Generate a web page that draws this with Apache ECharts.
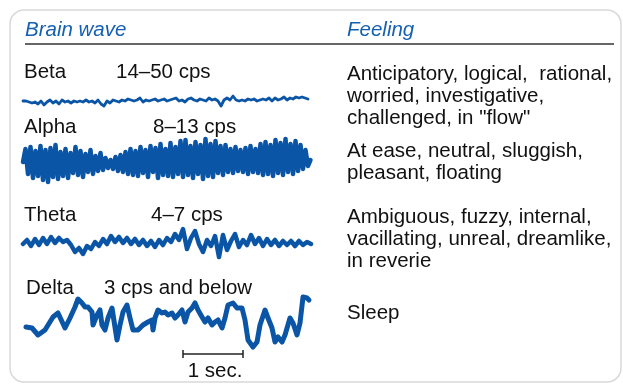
<!DOCTYPE html>
<html>
<head>
<meta charset="utf-8">
<script src="https://cdn.jsdelivr.net/npm/echarts@6/dist/echarts.min.js"></script>
<style>
  html, body { margin: 0; padding: 0; background: #fff; }
  #main { width: 623px; height: 384px; }
</style>
</head>
<body>
<div id="main"></div>
<script>
// wave traces, amplitude (x step in px-like time units)
var betaStep = 3;
var betaValues = [
  9,9,8,7,8,6,9,5,8,10,7,9,6,10,8,9,
  7,9,8,9,8,10,8,9,7,10,6,4,9,7,10,9,
  8,10,9,11,10,9,10,12,8,10,9,10,11,9,10,11,
  9,10,11,12,9,10,8,11,12,10,9,11,10,9,12,10,
  11,9,4,10,12,10,14,10,9,10,9,11,10,11,9,10,
  11,10,12,9,12,10,11,13,10,12,11,13,12,13,12,11
];

var alphaStep = 2.5;
var alphaValues = [
  28,41,16,43,12,39,14,44,10,40,8,42,13,45,11,38,
  14,41,12,37,17,43,15,39,13,36,18,40,16,34,19,37,
  20,32,22,30,21,33,19,35,18,38,16,41,15,39,14,43,
  17,40,13,44,18,42,12,46,15,41,14,47,13,43,16,49,
  13,50,15,44,12,48,16,45,11,51,14,46,13,49,17,44,
  15,45,18,41,17,43,19,40,18,42,16,44,18,41,17,46,
  15,48,16,45,14,50,17,47,15,51,18,46,16,49,19,45,
  21,40,24,30
];

var thetaStep = 4;
var thetaValues = [
  18,22,16,23,17,24,18,25,19,24,20,22,17,10,14,8,
  16,13,20,16,23,18,26,20,25,19,24,18,23,17,22,16,
  21,15,22,17,24,20,28,22,33,13,24,31,18,10,22,16,
  26,5,27,12,21,28,15,22,17,27,18,24,16,23,17,22,
  16,21,17,21,16,21,17,20,18
];

var deltaPoints = [
  [3,23],[9,22],[15,15],[22,20],[30,33],[35,37],[37,35],[42,22],[47,32],[52,43],
  [55,51],[59,47],[62,43],[65,43],[69,38],[70,25],[74,35],[77,40],[79,25],[82,20],
  [85,32],[89,42],[94,10],[97,25],[100,38],[104,45],[107,32],[110,20],[115,20],[120,25],
  [125,28],[129,30],[130,20],[132,32],[135,40],[139,37],[142,38],[145,35],[149,37],[152,32],
  [155,35],[159,40],[162,28],[165,38],[169,42],[172,47],[175,40],[179,33],[182,28],[185,32],
  [189,25],[192,28],[195,30],[199,22],[202,32],[205,45],[210,47],[214,42],[219,42],[222,30],
  [225,10],[230,3],[234,8],[237,25],[242,40],[245,32],[249,22],[252,8],[255,13],[259,8],
  [262,15],[267,32],[270,27],[274,15],[277,27],[280,53],[284,52],[286,50]
];

var waveNames = ['Beta', 'Alpha', 'Theta', 'Delta'];
var waveRanges = ['14–50 cps', '8–13 cps', '4–7 cps', '3 cps and below'];
var feelings = [
  ['Anticipatory, logical,  rational,', 'worried, investigative,', 'challenged, in "flow"'],
  ['At ease, neutral, sluggish,', 'pleasant, floating'],
  ['Ambiguous, fuzzy, internal,', 'vacillating, unreal, dreamlike,', 'in reverie'],
  ['Sleep']
];

function toPairs(values, step) {
  return values.map(function (v, i) { return [i * step, v]; });
}

var blue = '#0b55a6';
var font = '"Liberation Sans", Arial, sans-serif';
var fs = '20.5px ';

var grids = [
  { top: 90, height: 20 },
  { top: 135, height: 55 },
  { top: 222, height: 40 },
  { top: 295, height: 55 }
];
var widths = [2.8, 4.5, 4.5, 5];
var seriesData = [
  toPairs(betaValues, betaStep),
  toPairs(alphaValues, alphaStep),
  toPairs(thetaValues, thetaStep),
  deltaPoints
];

// label positions
var nameY = [72, 127, 215, 288];
var nameX = [24, 24, 24, 26];
var rangeX = [116, 153, 151, 104];
var feelY = [74, 151, 217, 313];

var graphic = [
  {
    type: 'rect',
    shape: { x: 10, y: 10, width: 611, height: 372, r: 14 },
    style: { fill: 'none', stroke: '#d9d9d9', lineWidth: 1.5 }
  },
  {
    type: 'line',
    shape: { x1: 25, y1: 44, x2: 614, y2: 44 },
    style: { stroke: '#333', lineWidth: 1.5 }
  },
  {
    type: 'text', x: 25, y: 30,
    style: { text: 'Brain wave', font: 'italic ' + fs + font, fill: '#1560b0', verticalAlign: 'middle' }
  },
  {
    type: 'text', x: 347, y: 30,
    style: { text: 'Feeling', font: 'italic ' + fs + font, fill: '#1560b0', verticalAlign: 'middle' }
  },
  // 1 sec. scale bar
  { type: 'line', shape: { x1: 183, y1: 354, x2: 243, y2: 354 }, style: { stroke: '#222', lineWidth: 1.5 } },
  { type: 'line', shape: { x1: 183, y1: 350, x2: 183, y2: 358 }, style: { stroke: '#222', lineWidth: 1.5 } },
  { type: 'line', shape: { x1: 243, y1: 350, x2: 243, y2: 358 }, style: { stroke: '#222', lineWidth: 1.5 } },
  {
    type: 'text', x: 215, y: 371,
    style: { text: '1 sec.', font: fs + font, fill: '#111', align: 'center', verticalAlign: 'middle' }
  }
];

waveNames.forEach(function (n, k) {
  graphic.push({
    type: 'text', x: nameX[k], y: nameY[k],
    style: { text: n, font: fs + font, fill: '#111', verticalAlign: 'middle' }
  });
  graphic.push({
    type: 'text', x: rangeX[k], y: nameY[k],
    style: { text: waveRanges[k], font: fs + font, fill: '#111', verticalAlign: 'middle' }
  });
  feelings[k].forEach(function (line, j) {
    graphic.push({
      type: 'text', x: 347, y: feelY[k] + j * 22,
      style: { text: line, font: fs + font, fill: '#111', verticalAlign: 'middle' }
    });
  });
});

var option = {
  backgroundColor: '#fff',
  animation: false,
  grid: grids.map(function (g) {
    return { left: 23, width: 290, top: g.top, height: g.height };
  }),
  xAxis: grids.map(function (g, k) {
    return { type: 'value', gridIndex: k, min: 0, max: 290, show: false };
  }),
  yAxis: grids.map(function (g, k) {
    return { type: 'value', gridIndex: k, min: 0, max: g.height, show: false };
  }),
  series: seriesData.map(function (d, k) {
    return {
      name: waveNames[k],
      type: 'line',
      xAxisIndex: k,
      yAxisIndex: k,
      data: d,
      showSymbol: false,
      clip: false,
      lineStyle: { color: blue, width: widths[k], join: 'round', cap: 'round' }
    };
  }),
  graphic: graphic
};

var myChart = echarts.init(document.getElementById('main'));
myChart.setOption(option);
</script>
</body>
</html>
